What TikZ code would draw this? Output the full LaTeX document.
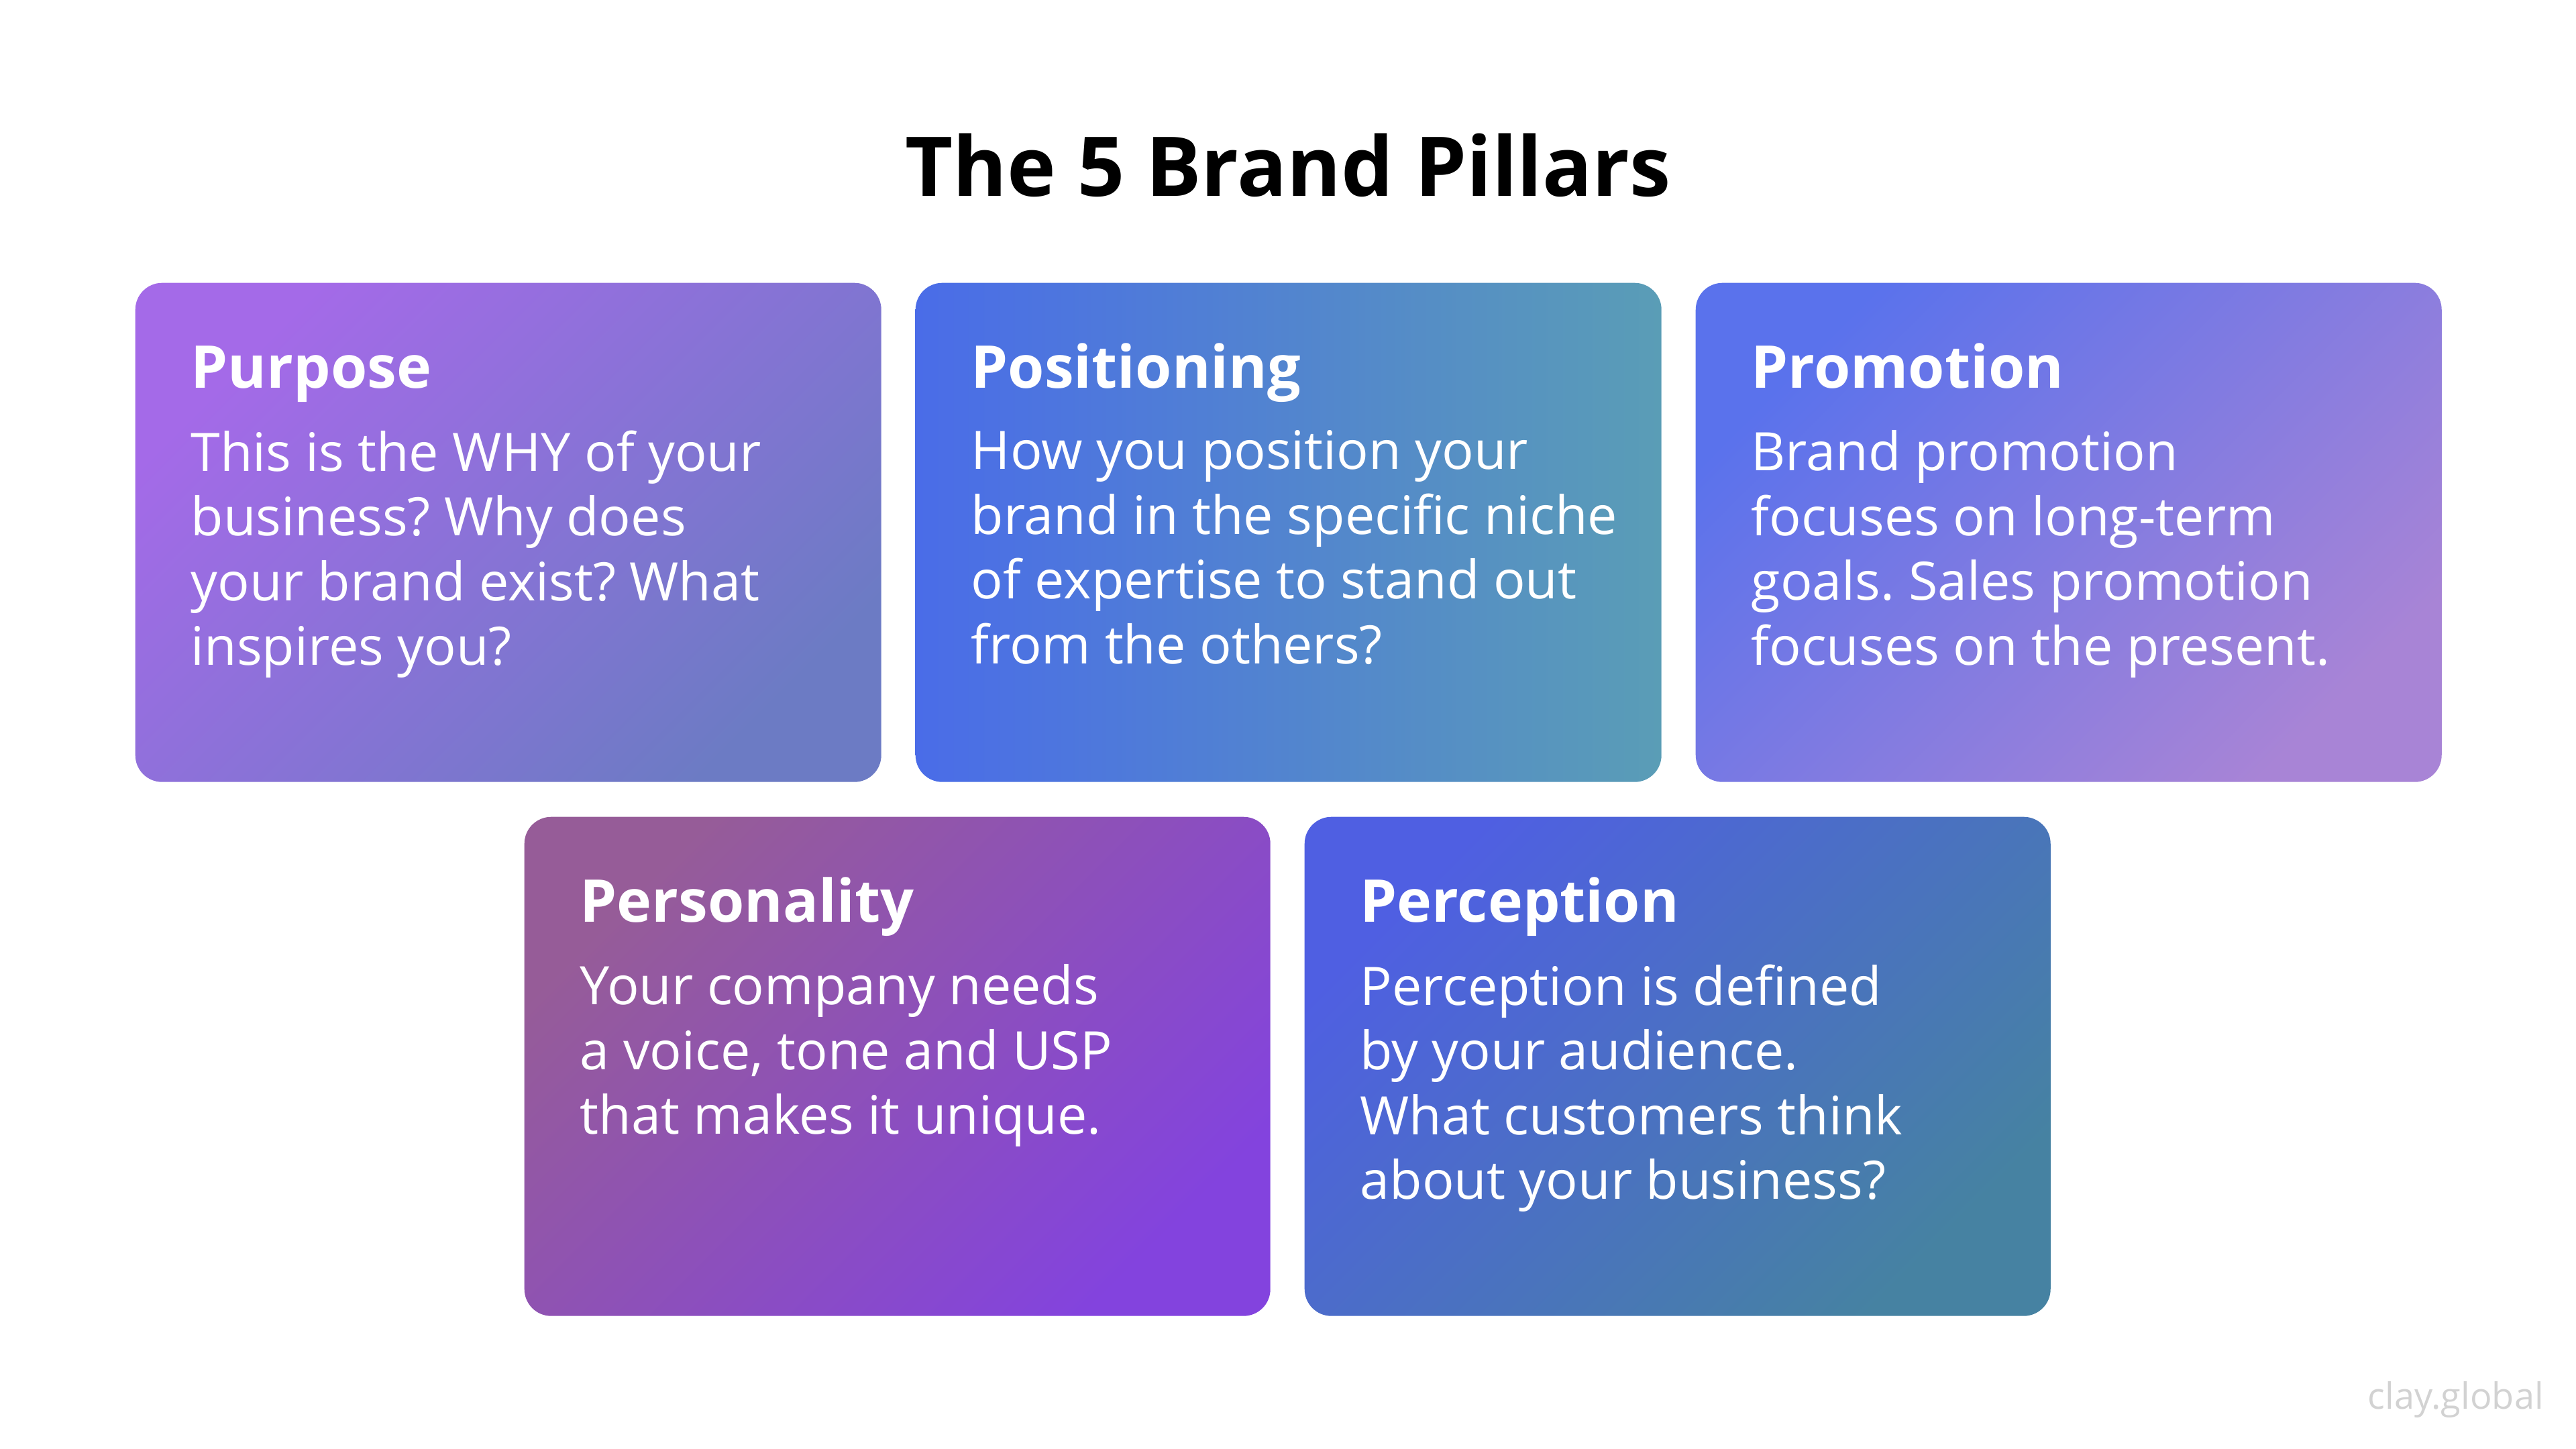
\documentclass[tikz,border=0pt]{standalone}
\usepackage{fontspec}
\setmainfont{Open Sans}
\usetikzlibrary{positioning}
\definecolor{purposeA}{HTML}{A46AE8}
\definecolor{purposeB}{HTML}{6C7BC4}
\definecolor{positionA}{HTML}{4A6CE8}
\definecolor{positionB}{HTML}{5A9DB6}
\definecolor{promoA}{HTML}{5A72EC}
\definecolor{promoB}{HTML}{A884D6}
\definecolor{personA}{HTML}{965C98}
\definecolor{personB}{HTML}{8343DE}
\definecolor{perceptA}{HTML}{4F5FE2}
\definecolor{perceptB}{HTML}{4682A2}
\definecolor{markgray}{HTML}{D2D2D2}
\frenchspacing
\begin{document}
\begin{tikzpicture}[line join=round, line cap=round,
    pillar/.style={rounded corners=0.4cm, minimum width=11.12cm, minimum height=7.44cm, anchor=north west, inner sep=0pt},
    head/.style={anchor=base west, inner sep=0pt, text=white, font=\fontsize{25}{30}\selectfont\bfseries},
    body/.style={anchor=north west, inner sep=0pt, text=white, align=left, font=\fontsize{22.5}{27.45}\selectfont}]
	\useasboundingbox (0,0) rectangle (38.4,-21.6);
	\node[anchor=base, inner sep=0pt, font=\fontsize{35}{42}\selectfont\bfseries] (title) at (19.2,-2.93) {The 5 Brand Pillars};
	% top row
	\node[pillar, top color=purposeA, bottom color=purposeB, shading angle=45] (purpose) at (2.01,-4.21) {};
	\node[pillar, left color=positionA, right color=positionB] (positioning) at (13.64,-4.21) {};
	\node[pillar, top color=promoA, bottom color=promoB, shading angle=45] (promotion) at (25.27,-4.21) {};
	% bottom row
	\node[pillar, top color=personA, bottom color=personB, shading angle=45] (personality) at (7.81,-12.17) {};
	\node[pillar, top color=perceptA, bottom color=perceptB, shading angle=45] (perception) at (19.44,-12.17) {};
	\node[head] (purposehead) at ([shift={(0.83,-1.57)}]purpose.north west) {Purpose};
	\node[body] (purposetext) at ([shift={(0.83,-2.20)}]purpose.north west) {This is the WHY of your\\business? Why does\\your brand exist? What\\inspires you?};
	\node[head] (positioninghead) at ([shift={(0.83,-1.57)}]positioning.north west) {Positioning};
	\node[body] (positioningtext) at ([shift={(0.83,-2.20)}]positioning.north west) {How you position your\\brand in the specific niche\\of expertise to stand out\\from the others?};
	\node[head] (promotionhead) at ([shift={(0.83,-1.57)}]promotion.north west) {Promotion};
	\node[body] (promotiontext) at ([shift={(0.83,-2.20)}]promotion.north west) {Brand promotion\\focuses on long-term\\goals. Sales promotion\\focuses on the present.};
	\node[head] (personalityhead) at ([shift={(0.83,-1.57)}]personality.north west) {Personality};
	\node[body] (personalitytext) at ([shift={(0.83,-2.20)}]personality.north west) {Your company needs\\a voice, tone and USP\\that makes it unique.};
	\node[head] (perceptionhead) at ([shift={(0.83,-1.57)}]perception.north west) {Perception};
	\node[body] (perceptiontext) at ([shift={(0.83,-2.20)}]perception.north west) {Perception is defined\\by your audience.\\What customers think\\about your business?};
	\node[anchor=base west, inner sep=0pt, text=markgray, font=\fontsize{15.4}{18}\selectfont] (mark) at (35.29,-21.00) {clay.global};
\end{tikzpicture}
\end{document}
